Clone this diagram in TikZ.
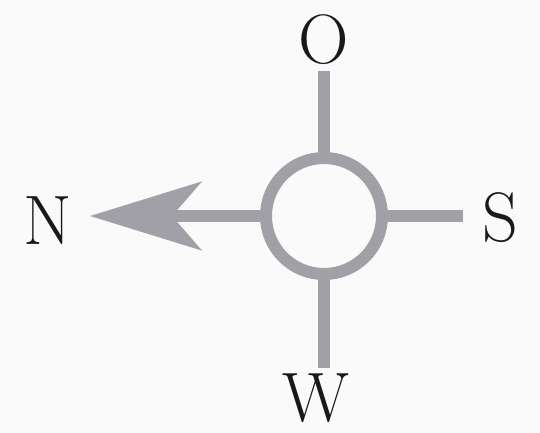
\documentclass[tikz,border=0pt]{standalone}
\usepackage{fontspec}
\usetikzlibrary{arrows.meta}
\definecolor{dotgray}{RGB}{160,160,166}
\definecolor{paper}{RGB}{250,250,251}

\begin{document}
\begin{tikzpicture}[
x=1pt, y=-1pt,
ring/.style={circle, draw=dotgray, line width=12pt, minimum size=116pt, inner sep=0pt},
spoke/.style={draw=dotgray, line width=12pt},
lbl/.style={font=\fontsize{70}{80}\selectfont, text=black!90, inner sep=0pt}
]
\fill[paper] (0,0) rectangle (540,433);
\useasboundingbox (0,0) rectangle (540,433);
\node[ring] (rose) at (324,216) {};
\node[lbl] (O) at (324,40) {O};
\node[lbl] (S) at (500,218) {S};
\node[lbl] (W) at (316,398) {W};
\node[lbl] (N) at (48,221) {N};
\coordinate (oend) at (324,71);
\coordinate (wend) at (324,368);
\coordinate (send) at (463,216);
\coordinate (ntip) at (90,216);
\draw[spoke] (rose.north) -- (oend);
\draw[spoke] (rose.south) -- (wend);
\draw[spoke] (rose.east) -- (send);
\draw[spoke, -{Stealth[length=111pt, width=68pt, inset=29pt]}] (rose.west) -- (ntip);
\end{tikzpicture}
\end{document}
